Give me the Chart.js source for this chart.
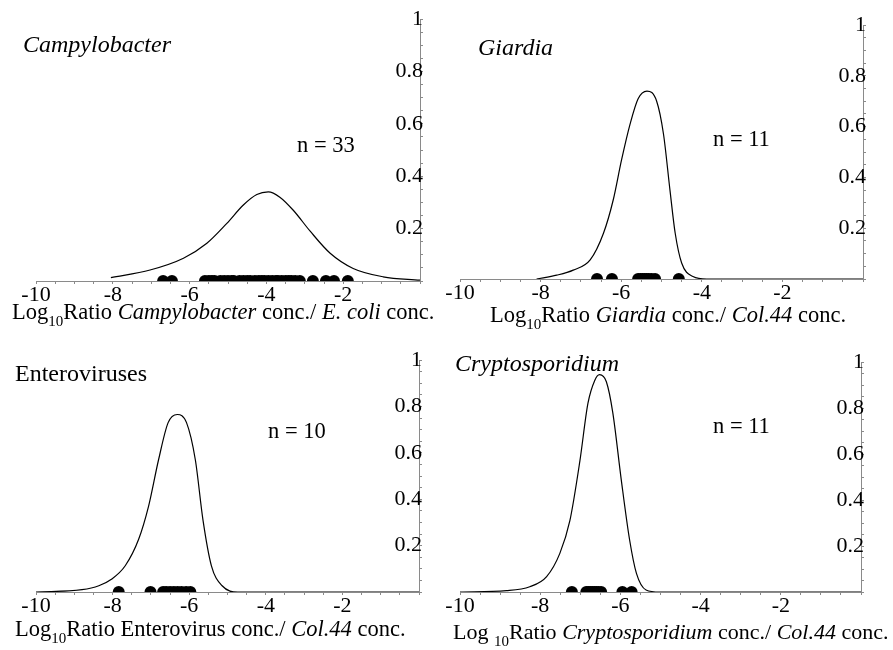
<!DOCTYPE html>
<html>
<head>
<meta charset="utf-8">
<title>Log10 ratio distributions</title>
<script src="https://cdn.jsdelivr.net/npm/chart.js@4.4.0/dist/chart.umd.min.js"></script>
<style>
  body { margin: 0; background: #fff; width: 893px; height: 650px; position: relative; overflow: hidden;
         font-family: "Liberation Serif", "Times New Roman", serif; color: #000; }
  .panel { position: absolute; }
  .lbl { position: absolute; font-size: 22.5px; line-height: 1; white-space: nowrap; z-index: 2; }
  .lbl.big { font-size: 24px; }
  .lbl.narrow { font-size: 22px; }
  .lbl sub { font-size: 15px; vertical-align: -7px; line-height: 0; }
</style>
</head>
<body>
<div class="panel" style="left:0;top:0"><canvas id="campy" width="440" height="312"></canvas></div>
<div class="panel" style="left:440px;top:0"><canvas id="giardia" width="453" height="312"></canvas></div>
<div class="panel" style="left:0;top:330px"><canvas id="entero" width="440" height="300"></canvas></div>
<div class="panel" style="left:440px;top:330px"><canvas id="crypto" width="453" height="300"></canvas></div>

<div class="lbl big" style="left:23px;top:32px"><i>Campylobacter</i></div>
<div class="lbl" style="left:297px;top:134px">n = 33</div>
<div class="lbl" style="left:12px;top:301px">Log<sub>10</sub>Ratio <i>Campylobacter</i> conc./ <i>E. coli</i> conc.</div>

<div class="lbl big" style="left:478px;top:35px"><i>Giardia</i></div>
<div class="lbl" style="left:713px;top:128px">n = 11</div>
<div class="lbl" style="left:490px;top:304px">Log<sub>10</sub>Ratio <i>Giardia</i> conc./ <i>Col.44</i> conc.</div>

<div class="lbl big" style="left:15px;top:361px">Enteroviruses</div>
<div class="lbl" style="left:268px;top:420px">n = 10</div>
<div class="lbl" style="left:15px;top:618px">Log<sub>10</sub>Ratio Enterovirus conc./ <i>Col.44</i> conc.</div>

<div class="lbl big" style="left:455px;top:351px"><i>Cryptosporidium</i></div>
<div class="lbl" style="left:713px;top:415px">n = 11</div>
<div class="lbl narrow" style="left:453px;top:621px">Log <sub>10</sub>Ratio <i>Cryptosporidium</i> conc./ <i>Col.44</i> conc.</div>

<script>
// tick labels shared by all four panels
const xTickValues = [-10, -8, -6, -4, -2];
const xTickLabels = ['-10', '-8', '-6', '-4', '-2'];
const yTickValues = [0.2, 0.4, 0.6, 0.8, 1];
const yTickLabels = ['0.2', '0.4', '0.6', '0.8', '1'];

// Campylobacter (n = 33)
const campyCurveX = [-8.05, -7.03, -6.16, -5.55, -5.03, -4.6, -4.25, -3.95, -3.65, -3.3, -2.86, -2.34, -1.74, -0.96, 0];
const campyCurveY = [0.013, 0.042, 0.087, 0.144, 0.22, 0.29, 0.33, 0.34, 0.32, 0.27, 0.19, 0.106, 0.048, 0.016, 0.003];
const campyObs = [-6.69, -6.46,
  -5.6, -5.5, -5.42, -5.35, -5.2, -5.1, -5.0, -4.9, -4.85, -4.7, -4.6, -4.5, -4.42, -4.3,
  -4.2, -4.12, -4.05, -3.95, -3.85, -3.75, -3.7, -3.6, -3.5, -3.42, -3.35, -3.25, -3.13,
  -2.79, -2.45, -2.24, -1.88];

// Giardia (n = 11)
const giardiaCurveX = [-8.1, -7.6, -7.19, -6.77, -6.44, -6.2, -5.99, -5.78, -5.58, -5.36, -5.12, -4.95, -4.79, -4.66, -4.5, -4.22, -3.88, -2, 0];
const giardiaCurveY = [0, 0.015, 0.035, 0.075, 0.18, 0.31, 0.47, 0.61, 0.71, 0.74, 0.7, 0.57, 0.35, 0.18, 0.063, 0.01, 0, 0, 0];
const giardiaObs = [-6.6, -6.23, -5.58, -5.52, -5.47, -5.42, -5.37, -5.32, -5.25, -5.16, -4.57];

// Enteroviruses (n = 10)
const enteroCurveX = [-10, -8.8, -8.36, -8.02, -7.67, -7.32, -7.06, -6.8, -6.55, -6.31, -6.07, -5.84, -5.64, -5.42, -5.14, -4.73, 0];
const enteroCurveY = [0, 0.01, 0.027, 0.056, 0.113, 0.227, 0.37, 0.57, 0.73, 0.765, 0.73, 0.57, 0.31, 0.113, 0.027, 0, 0];
const enteroObs = [-7.84, -7.01, -6.68, -6.6, -6.5, -6.4, -6.3, -6.2, -6.08, -5.97];

// Cryptosporidium (n = 11)
const cryptoCurveX = [-10, -8.84, -8.26, -7.84, -7.51, -7.26, -7.01, -6.81, -6.64, -6.52, -6.35, -6.19, -5.98, -5.77, -5.6, -5.36, -5.02, 0];
const cryptoCurveY = [0, 0.006, 0.023, 0.067, 0.168, 0.31, 0.57, 0.82, 0.92, 0.945, 0.914, 0.78, 0.49, 0.226, 0.081, 0.009, 0, 0];
const cryptoObs = [-7.21, -6.85, -6.8, -6.75, -6.7, -6.65, -6.6, -6.55, -6.48, -5.95, -5.72];

const tickFont = { family: '"Liberation Serif", "Times New Roman", serif', size: 22 };
const axisGray = '#8a8a8a';

function pickLabel(value, values, labels) {
  const i = values.findIndex(v => Math.abs(v - value) < 1e-6);
  return i >= 0 ? labels[i] : '';
}

// area = plot area inside the canvas: l, t, r, b in px
function drawPanel(id, area, curveX, curveY, obs) {
  const canvas = document.getElementById(id);
  const w = canvas.width, h = canvas.height;
  const xAxisH = 26, yAxisW = 10;
  new Chart(canvas.getContext('2d'), {
    type: 'scatter',
    data: {
      datasets: [
        {
          data: curveX.map((x, i) => ({ x: x, y: curveY[i] })),
          showLine: true,
          borderColor: '#000',
          borderWidth: 1.2,
          pointRadius: 0,
          cubicInterpolationMode: 'monotone'
        },
        {
          data: obs.map(x => ({ x: x, y: 0 })),
          pointRadius: 6,
          backgroundColor: '#000',
          borderWidth: 0,
          clip: 0
        }
      ]
    },
    options: {
      responsive: false,
      animation: false,
      devicePixelRatio: 1,
      layout: { padding: { left: area.l, top: area.t, right: w - area.r - yAxisW, bottom: h - area.b - xAxisH } },
      plugins: { legend: { display: false }, tooltip: { enabled: false } },
      scales: {
        x: {
          type: 'linear', min: -10, max: 0, position: 'bottom',
          afterFit: s => { s.height = xAxisH; },
          grid: { drawOnChartArea: false, tickLength: 3, color: axisGray },
          border: { color: axisGray },
          ticks: {
            stepSize: 0.5, autoSkip: false, maxRotation: 0, minRotation: 0, padding: -2,
            color: '#000', font: tickFont,
            callback: v => pickLabel(v, xTickValues, xTickLabels)
          }
        },
        y: {
          type: 'linear', min: 0, max: 1, position: 'right',
          afterFit: s => { s.width = yAxisW; },
          grid: { drawOnChartArea: false, tickLength: 3, color: axisGray },
          border: { color: axisGray },
          ticks: {
            stepSize: 0.05, autoSkip: false, mirror: true, padding: 3,
            color: '#000', font: tickFont,
            callback: v => pickLabel(v, yTickValues, yTickLabels)
          }
        }
      }
    }
  });
}

drawPanel('campy', { l: 36, t: 19, r: 420, b: 281 }, campyCurveX, campyCurveY, campyObs);
drawPanel('giardia', { l: 20, t: 25, r: 423, b: 279 }, giardiaCurveX, giardiaCurveY, giardiaObs);
drawPanel('entero', { l: 36, t: 30, r: 419, b: 262 }, enteroCurveX, enteroCurveY, enteroObs);
drawPanel('crypto', { l: 20, t: 32, r: 421, b: 262 }, cryptoCurveX, cryptoCurveY, cryptoObs);
</script>
</body>
</html>
